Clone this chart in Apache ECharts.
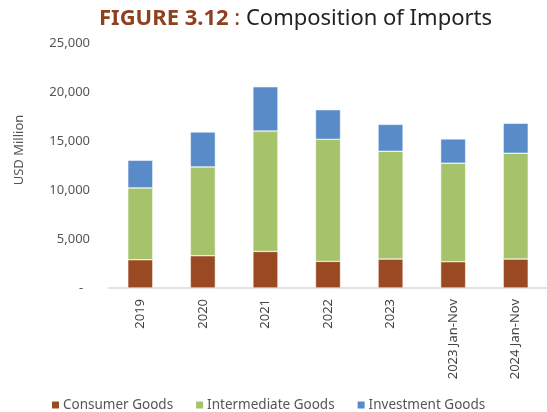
<!DOCTYPE html>
<html>
<head>
<meta charset="utf-8">
<script src="https://cdn.jsdelivr.net/npm/echarts@6/dist/echarts.min.js"></script>
<style>
  html, body { margin: 0; padding: 0; background: #fff; }
  #chart { width: 547px; height: 412px; }
</style>
</head>
<body>
<div id="chart"></div>
<script>
// Imports by category, USD million
const categories = ['2019', '2020', '2021', '2022', '2023', '2023 Jan-Nov', '2024 Jan-Nov'];
const consumerGoods = [2890, 3300, 3740, 2720, 2960, 2690, 2960];
const intermediateGoods = [7345, 9080, 12310, 12480, 11020, 10070, 10820];
const investmentGoods = [2826, 3570, 4530, 3030, 2750, 2480, 3060];
const seriesNames = ['Consumer Goods', 'Intermediate Goods', 'Investment Goods'];
const seriesColors = ['#9A4A22', '#A6C26A', '#588BC8'];

const FONT = 'Noto Sans';
const chart = echarts.init(document.getElementById('chart'), null, { renderer: 'canvas' });

const values = [consumerGoods, intermediateGoods, investmentGoods];

chart.setOption({
  animation: false,
  title: {
    text: '{b|FIGURE 3.12}{c| : }{t|Composition of Imports}',
    left: 99,
    top: 8,
    padding: 0,
    textStyle: {
      rich: {
        b: { fontFamily: FONT, fontWeight: 'bold', fontSize: 22, color: '#8E401F' },
        c: { fontFamily: FONT, fontWeight: 'normal', fontSize: 22, color: '#8E401F' },
        t: { fontFamily: FONT, fontWeight: 'normal', fontSize: 22, color: '#222' }
      }
    }
  },
  legend: {
    data: seriesNames,
    left: 50,
    top: 398,
    padding: 0,
    icon: 'rect',
    itemWidth: 9,
    itemHeight: 9,
    itemGap: 21,
    textStyle: { fontFamily: FONT, fontSize: 13.5, color: '#555', padding: [0, 0, 0, -2] }
  },
  grid: { left: 109, top: 43.5, width: 444, height: 244.5, containLabel: false },
  xAxis: {
    type: 'category',
    data: categories,
    axisLine: { lineStyle: { color: '#D9D9D9', width: 1.5 } },
    axisTick: { show: false },
    axisLabel: {
      rotate: 90,
      interval: 0,
      margin: 11,
      fontFamily: FONT,
      fontSize: 13,
      color: '#444'
    }
  },
  yAxis: {
    type: 'value',
    min: 0,
    max: 25000,
    interval: 5000,
    splitLine: { show: false },
    axisLine: { show: false },
    axisTick: { show: false },
    axisLabel: {
      margin: 19,
      fontFamily: FONT,
      fontSize: 13,
      color: '#555',
      formatter: v => v === 0 ? '-  ' : v.toLocaleString('en-US')
    }
  },
  graphic: [{
    type: 'text',
    x: 19,
    y: 150,
    rotation: Math.PI / 2,
    style: {
      text: 'USD Million',
      fontFamily: FONT,
      fontSize: 13,
      fill: '#555',
      align: 'center',
      verticalAlign: 'middle'
    }
  }],
  series: seriesNames.map((name, i) => ({
    name,
    type: 'bar',
    stack: 'imports',
    barWidth: 25,
    data: values[i],
    itemStyle: { color: seriesColors[i], borderColor: '#fff', borderWidth: 0.5 }
  }))
});
</script>
</body>
</html>
